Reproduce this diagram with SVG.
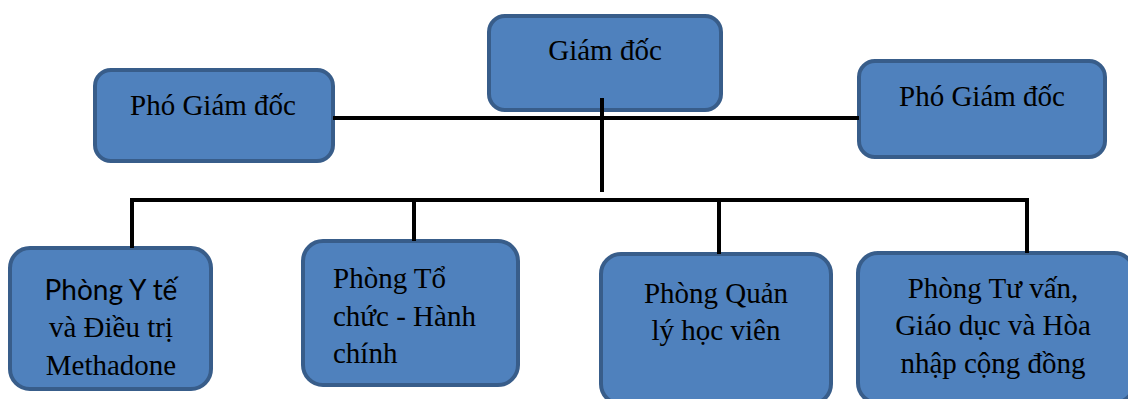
<svg xmlns="http://www.w3.org/2000/svg" width="1128" height="399" viewBox="0 0 1128 399">
<style>
.box{fill:#4F81BD;stroke:#385D8A;stroke-width:4}
.t{font-family:"Liberation Serif","Times New Roman",serif;font-size:29px;fill:#000}
.s{font-family:Lato,"Liberation Sans",sans-serif;font-size:28px;fill:#000}
.c{text-anchor:middle}
.ln{stroke:#000;stroke-width:4;fill:none}
</style>
<rect width="1128" height="399" fill="#fff"/>
<g id="n-gd"><rect class="box" x="489" y="16" width="232" height="94" rx="16"/><text class="t c" x="605" y="60">Giám đốc</text></g>
<g id="n-pgd1"><rect class="box" x="95" y="70" width="238" height="91" rx="16"/><text class="t c" x="213" y="115">Phó Giám đốc</text></g>
<g id="n-pgd2"><rect class="box" x="859" y="61" width="246" height="96" rx="16"/><text class="t c" x="982" y="106">Phó Giám đốc</text></g>
<g id="n-yte"><rect class="box" x="10" y="248" width="201" height="141" rx="20"/><text class="s c" x="111" y="300">Phòng Y tế</text><text class="t c" x="111" y="337">và Điều trị</text><text class="t c" x="111" y="375">Methadone</text></g>
<g id="n-tc"><rect class="box" x="303" y="241" width="215" height="144" rx="20"/><text class="t" x="333" y="288">Phòng Tổ</text><text class="t" x="333" y="326">chức - Hành</text><text class="t" x="333" y="363">chính</text></g>
<g id="n-ql"><rect class="box" x="601" y="254" width="230" height="150" rx="20"/><text class="t c" x="716" y="303">Phòng Quản</text><text class="t c" x="716" y="340">lý học viên</text></g>
<g id="n-tv"><rect class="box" x="858" y="253" width="276" height="150" rx="20"/><text class="t c" x="993" y="298">Phòng Tư vấn,</text><text class="t c" x="993" y="335">Giáo dục và Hòa</text><text class="t c" x="993" y="373">nhập cộng đồng</text></g>
<g id="connectors">
<path class="ln" d="M333 118 H859"/>
<path class="ln" d="M602 98 V192"/>
<path class="ln" d="M130 200 H1027"/>
<path class="ln" d="M132 198 V248 M414 200 V241 M719 200 V254 M1027 198 V253"/>
</g>
</svg>
